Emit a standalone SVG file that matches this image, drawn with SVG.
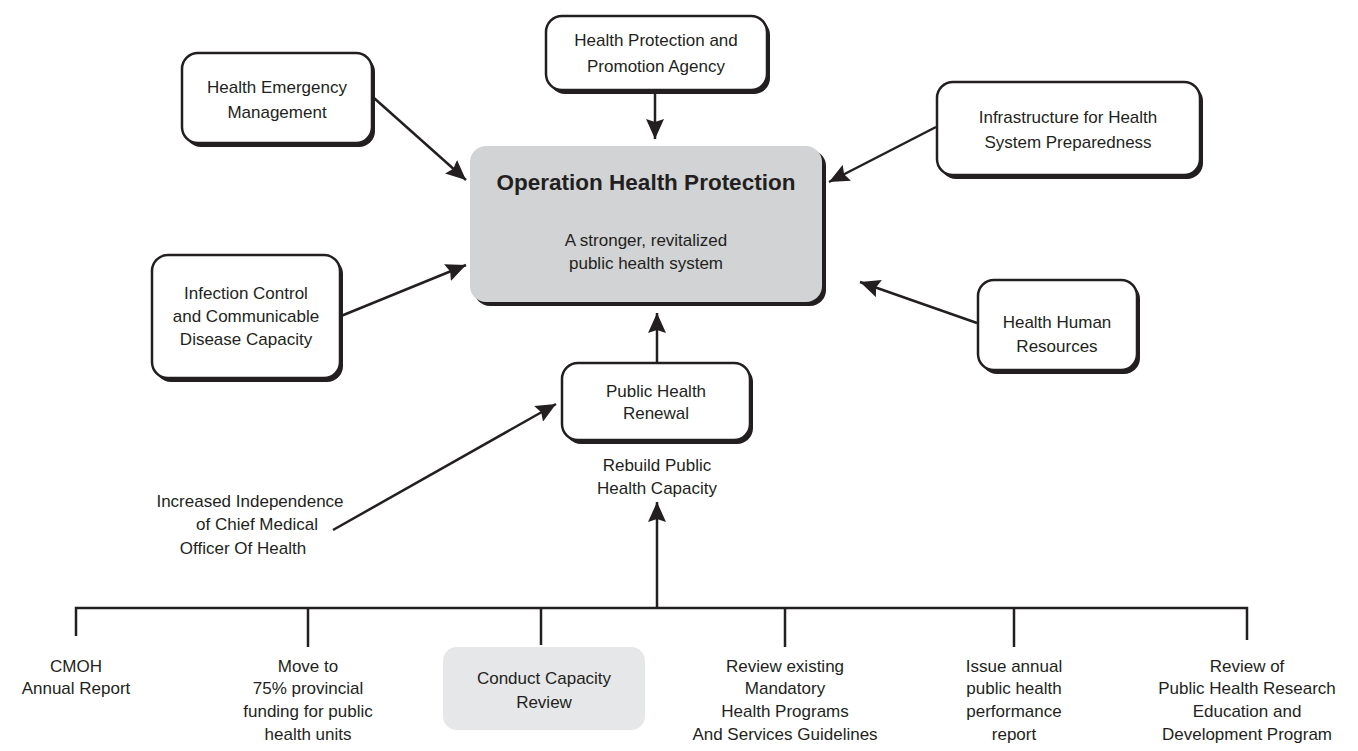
<svg xmlns="http://www.w3.org/2000/svg" width="1358" height="751" viewBox="0 0 1358 751">
  <style>
    text { font-family: "Liberation Sans", Arial, sans-serif; font-size: 17px; fill: #231f20; text-anchor: middle; }
    .title { font-size: 22.5px; font-weight: bold; }
    .shadow { fill: #231f20; }
    .box { fill: #ffffff; stroke: #231f20; stroke-width: 2.5; }
    .core { fill: #d1d3d4; }
    .soft { fill: #e6e7e8; }
    .link { fill: none; stroke: #231f20; stroke-width: 2.5; }
  </style>
  <defs>
    <marker id="arrow" viewBox="0 0 20 18" refX="20" refY="9" markerWidth="20" markerHeight="18" markerUnits="userSpaceOnUse" orient="auto">
      <path d="M0,0 L20,9 L0,18 L3,9 z" fill="#231f20"/>
    </marker>
  </defs>
  <rect width="1358" height="751" fill="#ffffff"/>

  <!-- connectors -->
  <g id="connectors">
    <path class="link" d="M374,98 L466,180" marker-end="url(#arrow)"/>
    <path class="link" d="M655,93 L655,139" marker-end="url(#arrow)"/>
    <path class="link" d="M936,127 L829,182" marker-end="url(#arrow)"/>
    <path class="link" d="M341,316 L466,265" marker-end="url(#arrow)"/>
    <path class="link" d="M977,323 L860,282" marker-end="url(#arrow)"/>
    <path class="link" d="M657,363 L657,313" marker-end="url(#arrow)"/>
    <path class="link" d="M333,530 L556,404" marker-end="url(#arrow)"/>
    <path class="link" d="M657,608 L657,502" marker-end="url(#arrow)"/>
    <!-- bracket gathering the capacity actions -->
    <path class="link" d="M76,636 V608 H1247 V640"/>
    <path class="link" d="M308,608 V647 M541,608 V645 M785,608 V647 M1014,608 V647"/>
  </g>

  <!-- central outcome -->
  <g id="operation-health-protection">
    <rect class="shadow" x="474" y="150" width="352" height="156" rx="16"/>
    <rect class="core" x="470" y="146" width="352" height="156" rx="16"/>
    <text class="title" x="646" y="190">Operation Health Protection</text>
    <text x="646" y="246">A stronger, revitalized</text>
    <text x="646" y="269">public health system</text>
  </g>

  <g id="health-emergency-management">
    <rect class="shadow" x="185" y="56" width="190" height="91" rx="16"/>
    <rect class="box" x="182" y="53" width="190" height="90" rx="16"/>
    <text x="277" y="93">Health Emergency</text>
    <text x="277" y="118">Management</text>
  </g>

  <g id="health-protection-promotion-agency">
    <rect class="shadow" x="549" y="19" width="221" height="75" rx="16"/>
    <rect class="box" x="546" y="16" width="221" height="74" rx="16"/>
    <text x="656" y="46">Health Protection and</text>
    <text x="656" y="72">Promotion Agency</text>
  </g>

  <g id="infrastructure-preparedness">
    <rect class="shadow" x="940" y="85" width="263" height="94" rx="16"/>
    <rect class="box" x="937" y="82" width="263" height="93" rx="16"/>
    <text x="1068" y="123">Infrastructure for Health</text>
    <text x="1068" y="148">System Preparedness</text>
  </g>

  <g id="infection-control">
    <rect class="shadow" x="155" y="258" width="188" height="124" rx="16"/>
    <rect class="box" x="152" y="255" width="188" height="123" rx="16"/>
    <text x="246" y="299">Infection Control</text>
    <text x="246" y="322">and Communicable</text>
    <text x="246" y="345">Disease Capacity</text>
  </g>

  <g id="health-human-resources">
    <rect class="shadow" x="981" y="283" width="159" height="91" rx="16"/>
    <rect class="box" x="978" y="280" width="159" height="90" rx="16"/>
    <text x="1057" y="328">Health Human</text>
    <text x="1057" y="352">Resources</text>
  </g>

  <g id="public-health-renewal">
    <rect class="shadow" x="565" y="366" width="188" height="78" rx="16"/>
    <rect class="box" x="562" y="363" width="188" height="77" rx="16"/>
    <text x="656" y="397">Public Health</text>
    <text x="656" y="419">Renewal</text>
  </g>

  <g id="rebuild-capacity">
    <text x="657" y="471">Rebuild Public</text>
    <text x="657" y="494">Health Capacity</text>
  </g>

  <g id="cmoh-independence">
    <text x="250" y="507">Increased Independence</text>
    <text x="257" y="530">of Chief Medical</text>
    <text x="243" y="554">Officer Of Health</text>
  </g>

  <g id="cmoh-annual-report">
    <text x="76" y="672">CMOH</text>
    <text x="76" y="694">Annual Report</text>
  </g>

  <g id="provincial-funding">
    <text x="308" y="672">Move to</text>
    <text x="308" y="694">75% provincial</text>
    <text x="308" y="717">funding for public</text>
    <text x="308" y="740">health units</text>
  </g>

  <g id="capacity-review">
    <rect class="soft" x="443" y="647" width="202" height="83" rx="14"/>
    <text x="544" y="684">Conduct Capacity</text>
    <text x="544" y="708">Review</text>
  </g>

  <g id="mandatory-programs">
    <text x="785" y="672">Review existing</text>
    <text x="785" y="694">Mandatory</text>
    <text x="785" y="717">Health Programs</text>
    <text x="785" y="740">And Services Guidelines</text>
  </g>

  <g id="performance-report">
    <text x="1014" y="672">Issue annual</text>
    <text x="1014" y="694">public health</text>
    <text x="1014" y="717">performance</text>
    <text x="1014" y="740">report</text>
  </g>

  <g id="research-review">
    <text x="1247" y="672">Review of</text>
    <text x="1247" y="694">Public Health Research</text>
    <text x="1247" y="717">Education and</text>
    <text x="1247" y="740">Development Program</text>
  </g>
</svg>
